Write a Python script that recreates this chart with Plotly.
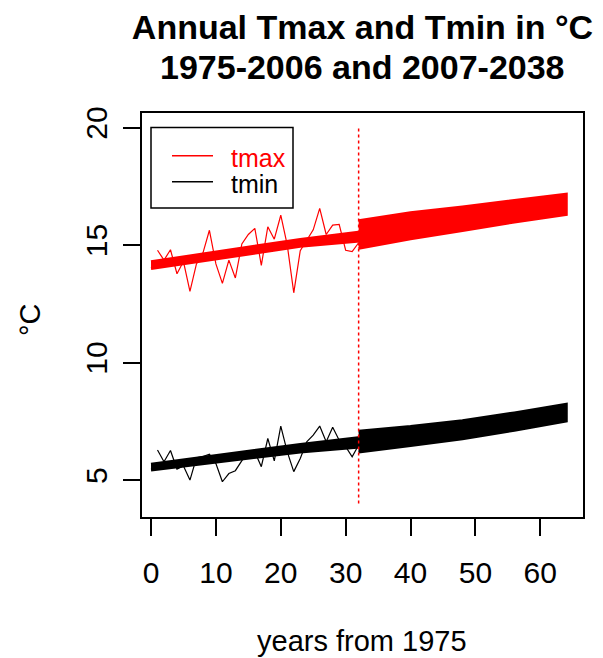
import plotly.graph_objects as go

# ---- data ----
years_hist = list(range(1, 33))
tmax = [14.78, 14.36, 14.80, 13.78, 14.30, 13.03, 14.20, 14.66, 15.63, 14.20,
        13.37, 14.36, 13.60, 15.05, 15.45, 15.71, 14.14, 15.78, 15.25, 16.27,
        15.00, 12.97, 14.76, 15.20, 15.65, 16.56, 15.45, 15.85, 15.88, 14.78,
        14.72, 15.10]
tmin = [6.28, 5.78, 6.26, 5.47, 5.60, 5.00, 5.95, 6.00, 6.10, 5.70,
        4.93, 5.28, 5.40, 5.85, 6.25, 6.20, 5.57, 6.77, 5.82, 7.30,
        6.20, 5.36, 5.92, 6.63, 6.91, 7.30, 6.63, 7.25, 6.70, 6.42,
        5.99, 6.49]

# historical trend band (years 0..32)
trend_x = [0, 23, 32]
tmax_trend_hi = [14.29, 15.24, 15.55]
tmax_trend_lo = [14.00, 14.95, 15.17]
tmin_trend_hi = [5.67, 6.52, 6.80]
tmin_trend_lo = [5.43, 6.20, 6.40]

# projected band (years 32..64)
proj_x = [32, 40, 48, 56, 64]
tmax_proj_hi = [16.04, 16.38, 16.62, 16.90, 17.17]
tmax_proj_lo = [14.86, 15.27, 15.62, 15.98, 16.30]
tmin_proj_hi = [7.08, 7.28, 7.53, 7.86, 8.23]
tmin_proj_lo = [6.20, 6.47, 6.76, 7.12, 7.52]

split_x = [32, 32]
split_y = [4, 20]

x_ticks = [0, 10, 20, 30, 40, 50, 60]
y_ticks = [5, 10, 15, 20]

title_line1 = "Annual Tmax and Tmin in °C"
title_line2 = "1975-2006 and 2007-2038"

FONT = "Liberation Sans, Arial, sans-serif"
RED = "#FF0000"
BLACK = "#000000"

# page body has an 8px margin: figure occupies 8..603 x 8..658
OFF = 8
FIG_W, FIG_H = 603 - OFF, 658 - OFF
L, T = 142, 113          # plot area in page pixels
W, H = 441, 404

fig = go.Figure()


def band(xs, hi, lo, color):
    return go.Scatter(x=xs + xs[::-1], y=hi + lo[::-1], mode="lines",
                      fill="toself", fillcolor=color,
                      line=dict(color=color, width=3),
                      hoverinfo="skip", showlegend=False)


fig.add_trace(band(trend_x, tmax_trend_hi, tmax_trend_lo, RED))
fig.add_trace(band(proj_x, tmax_proj_hi, tmax_proj_lo, RED))
fig.add_trace(band(trend_x, tmin_trend_hi, tmin_trend_lo, BLACK))
fig.add_trace(band(proj_x, tmin_proj_hi, tmin_proj_lo, BLACK))

fig.add_trace(go.Scatter(x=years_hist, y=tmax, mode="lines", name="tmax",
                         line=dict(color=RED, width=1.2), showlegend=False))
fig.add_trace(go.Scatter(x=years_hist, y=tmin, mode="lines", name="tmin",
                         line=dict(color=BLACK, width=1.2), showlegend=False))

fig.add_trace(go.Scatter(x=split_x, y=split_y, mode="lines",
                         line=dict(color=RED, width=1.5, dash="dot"),
                         hoverinfo="skip", showlegend=False))


def px(xp):
    return (xp - L) / W


def py(yp):
    return (T + H - yp) / H


# ---- manual R-style legend ----
fig.add_shape(type="rect", xref="paper", yref="paper",
              x0=px(151), x1=px(293), y0=py(208), y1=py(127.5),
              line=dict(color=BLACK, width=1.5), fillcolor="white", layer="above")
for yy, col, lab in [(155.7, RED, "tmax"), (181.7, BLACK, "tmin")]:
    fig.add_shape(type="line", xref="paper", yref="paper",
                  x0=px(172), x1=px(213), y0=py(yy), y1=py(yy),
                  line=dict(color=col, width=1.5), layer="above")
    fig.add_annotation(xref="paper", yref="paper", x=px(229), y=py(yy + 2),
                       xanchor="left", yanchor="middle", text=lab,
                       showarrow=False, font=dict(family=FONT, size=25, color=col))

# second title line
fig.add_annotation(xref="paper", yref="paper", x=px(362), y=py(67),
                   xanchor="center", yanchor="middle", text="<b>" + title_line2 + "</b>",
                   showarrow=False, font=dict(family=FONT, size=34, color=BLACK))

# axis titles
fig.add_annotation(xref="paper", yref="paper", x=px(362), y=py(641),
                   xanchor="center", yanchor="middle", text="years from 1975",
                   showarrow=False, font=dict(family=FONT, size=29, color=BLACK))
fig.add_annotation(xref="paper", yref="paper", x=px(30), y=py(320),
                   xanchor="center", yanchor="middle", text="°C", textangle=-90,
                   showarrow=False, font=dict(family=FONT, size=29, color=BLACK))

fig.update_layout(
    width=FIG_W, height=FIG_H,
    margin=dict(l=L - OFF, r=603 - L - W, t=T - OFF, b=658 - T - H),
    paper_bgcolor="white", plot_bgcolor="white",
    title=dict(text="<b>" + title_line1 + "</b>",
               x=0.5, xref="paper", xanchor="center",
               y=1 - (27 - OFF) / FIG_H, yref="container", yanchor="middle",
               font=dict(family=FONT, size=34, color=BLACK)),
    showlegend=False,
)

fig.update_xaxes(range=[-1.39, 66.58], tickvals=x_ticks,
                 ticks="outside", ticklen=17, tickwidth=1.5, tickcolor=BLACK,
                 showline=True, mirror=True, linecolor=BLACK, linewidth=1.5,
                 showgrid=False, zeroline=False, ticklabelstandoff=11,
                 tickfont=dict(family=FONT, size=30, color=BLACK))
fig.update_yaxes(range=[3.43, 20.62], tickvals=y_ticks, tickangle=-90,
                 ticks="outside", ticklen=17, tickwidth=1.5, tickcolor=BLACK,
                 showline=True, mirror=True, linecolor=BLACK, linewidth=1.5,
                 showgrid=False, zeroline=False, ticklabelstandoff=4,
                 tickfont=dict(family=FONT, size=30, color=BLACK))

fig.write_html("out.html")
